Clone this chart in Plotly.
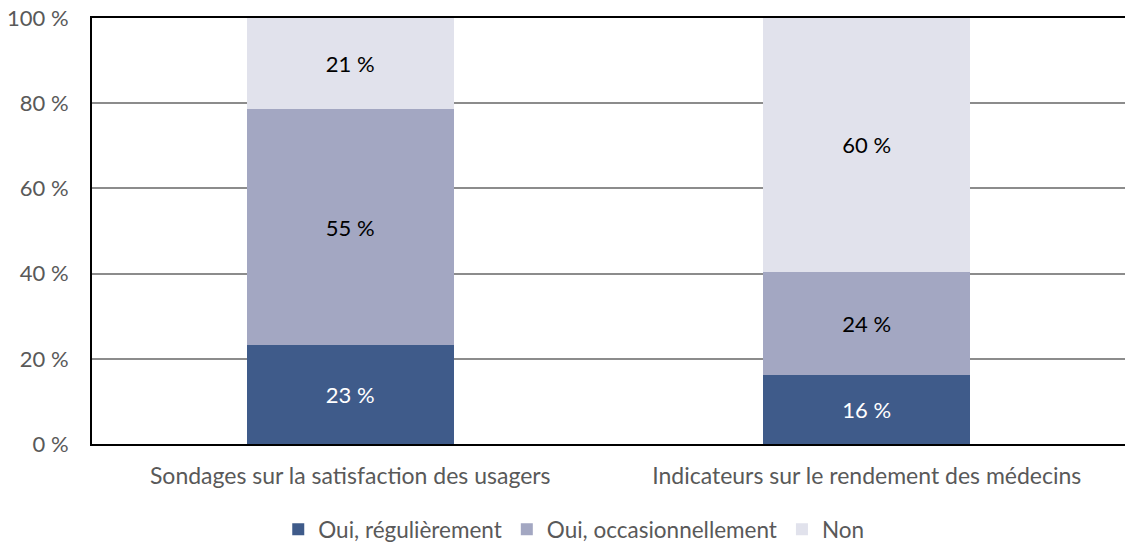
import plotly.graph_objects as go

categories = ["Sondages sur la satisfaction des usagers", "Indicateurs sur le rendement des médecins"]
series_names = ["Oui, régulièrement", "Oui, occasionnellement", "Non"]
regulier = [23.2, 16.2]
occasionnel = [55.4, 24.2]
non = [21.4, 59.6]
labels_regulier = ["23 %", "16 %"]
labels_occasionnel = ["55 %", "24 %"]
labels_non = ["21 %", "60 %"]
y_ticks = [0, 20, 40, 60, 80, 100]
y_tick_labels = ["0 %", "20 %", "40 %", "60 %", "80 %", "100 %"]

colors = ["#3F5B8A", "#A3A7C2", "#E1E2EC"]
text_colors = ["white", "black", "black"]
FONT = "Lato"

fig = go.Figure()
for name, vals, labs, col, tc in zip(series_names, [regulier, occasionnel, non],
                                      [labels_regulier, labels_occasionnel, labels_non],
                                      colors, text_colors):
    fig.add_trace(go.Bar(
        x=categories, y=vals, name=name, marker=dict(color=col, line=dict(width=0)),
        text=labs, textposition="inside", insidetextanchor="middle",
        textfont=dict(color=tc, size=22, family=FONT), hoverinfo="skip",
    ))

fig.update_layout(
    barmode="stack", bargap=0.6,
    width=1125, height=546,
    margin=dict(l=92, r=0, t=18, b=102, autoexpand=False),
    plot_bgcolor="white", paper_bgcolor="white",
    font=dict(family=FONT, size=22, color="#595959"),
    uniformtext=dict(mode=False),
    legend=dict(orientation="h", xref="container", x=0.51, xanchor="center",
                yref="container", y=0.03, yanchor="middle",
                font=dict(size=22.5, color="#595959"), itemwidth=30,
                traceorder="normal"),
    showlegend=True,
)
fig.update_xaxes(showline=True, linecolor="black", linewidth=2, mirror=True,
                 ticks="", ticklabelstandoff=10, automargin=False,
                 tickfont=dict(size=23, color="#595959"))
fig.update_yaxes(range=[0, 100], tickvals=y_ticks, ticktext=y_tick_labels,
                 showline=True, linecolor="black", linewidth=2,
                 showgrid=True, gridcolor="#8C8C8C", gridwidth=1.5,
                 ticks="", ticklabelstandoff=17, zeroline=False, automargin=False,
                 ticklabeloverflow="allow",
                 tickfont=dict(size=22, color="#595959"))

# remove the page's default 8px body margin so the figure fills the window
fig.write_html("out.html", config={"displayModeBar": False},
               post_script="document.body.style.margin='0';")
